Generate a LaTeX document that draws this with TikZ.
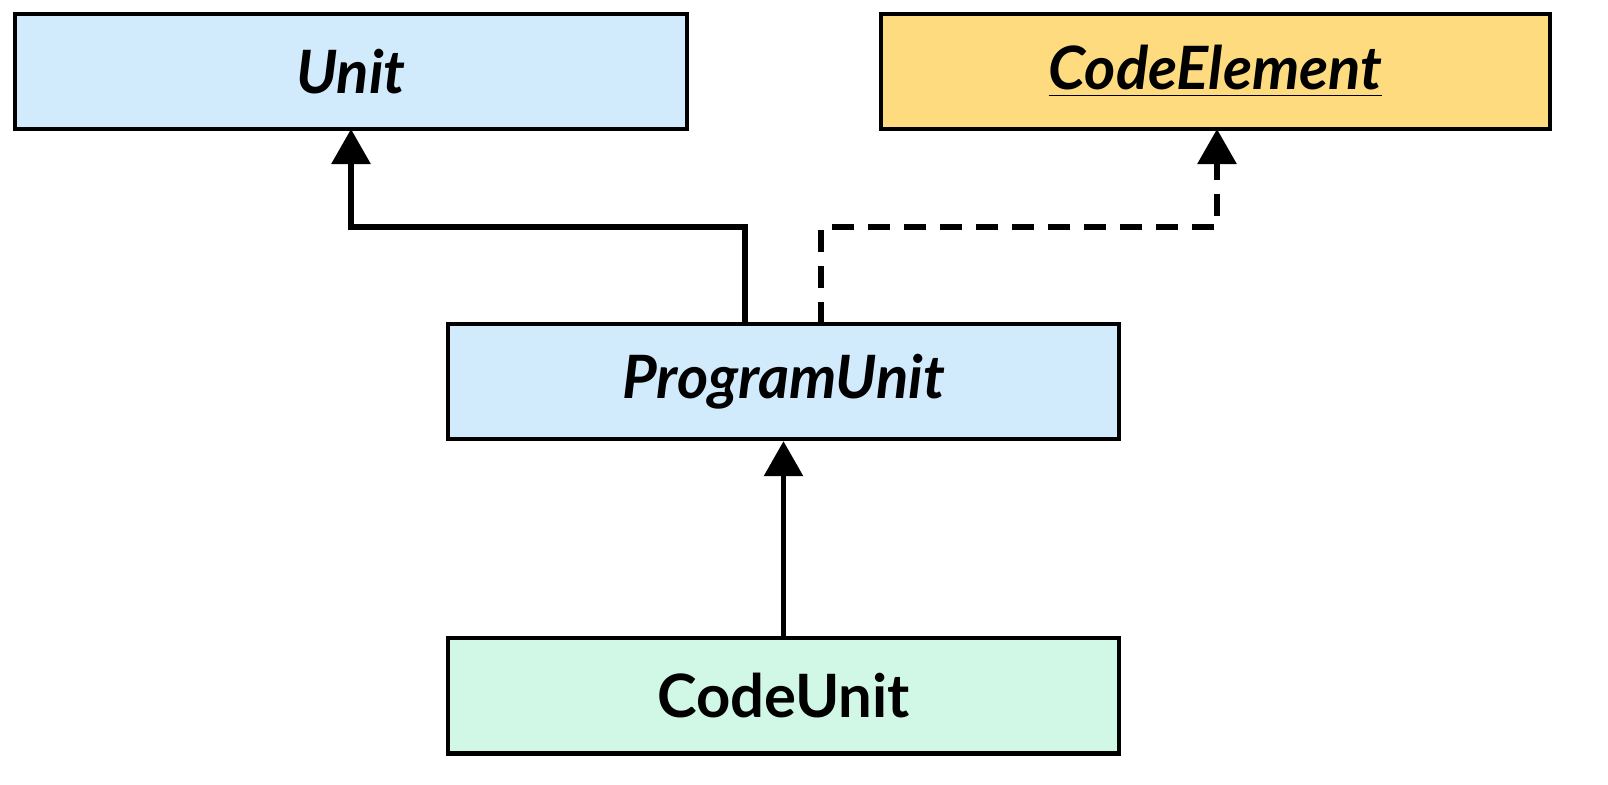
\documentclass[tikz,border=0pt]{standalone}
\usepackage{fontspec}
\setmainfont{Lato}
\usetikzlibrary{arrows.meta,positioning}
\definecolor{unitblue}{HTML}{D1EBFC}
\definecolor{elemyellow}{HTML}{FDDB7E}
\definecolor{codegreen}{HTML}{D1F8E6}
\tikzset{
  cls/.style={draw, line width=1.2pt, minimum width=6.71cm, minimum height=1.15cm,
    font=\fontsize{17}{20}\selectfont\bfseries},
  inherit/.style={line width=1.7pt, -{Triangle[length=0.35cm,width=0.38cm]}},
}
\begin{document}
\begin{tikzpicture}[x=0.01cm,y=-0.01cm]
  \useasboundingbox (0,0) rectangle (1608,784);
  \node[cls, fill=unitblue, minimum width=6.72cm] (Unit) at (351,71.5) {\itshape Unit};
  \node[cls, fill=elemyellow, minimum width=6.69cm] (Elem) at (1215.5,71.5) {\itshape\underline{CodeElement}};
  \node[cls, fill=unitblue] (PU) at (783.5,381.5) {\itshape ProgramUnit};
  \node[cls, fill=codegreen, below=1.95cm of PU] (CU) {CodeUnit};
  \coordinate (PUa) at (745,324);
  \coordinate (PUb) at (821,324);
  \draw[inherit] (PUa) |- (351,227) -- (351,129);
  \draw[inherit, dash pattern=on 0.22cm off 0.14cm] (PUb) |- (1217,227) -- (1217,129);
  \draw[inherit] (CU) -- (PU);
\end{tikzpicture}
\end{document}
